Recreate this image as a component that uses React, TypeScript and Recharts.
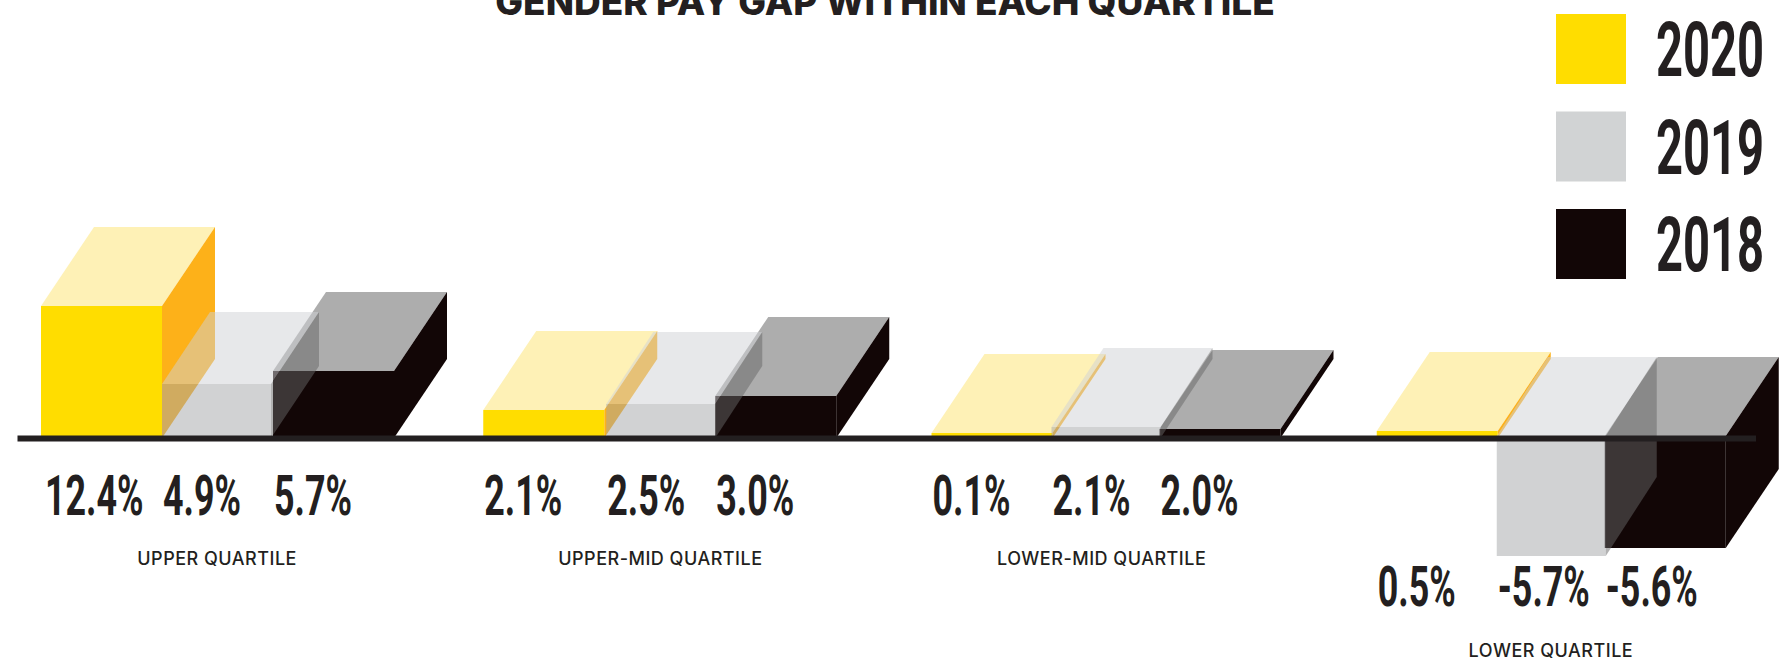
// App.tsx - gender pay gap by quartile, 3D style boxes
import { BarChart, Bar, XAxis, YAxis, Legend, LabelList, ReferenceLine } from 'recharts'

const quartiles = ['UPPER QUARTILE', 'UPPER-MID QUARTILE', 'LOWER-MID QUARTILE', 'LOWER QUARTILE']

// printed labels
const labels2020 = ['12.4%', '2.1%', '0.1%', '0.5%']
const labels2019 = ['4.9%', '2.5%', '2.1%', '-5.7%']
const labels2018 = ['5.7%', '3.0%', '2.0%', '-5.6%']

// bar heights as drawn in the picture, they do not follow the printed labels
const heights2020 = [13.2, 2.8, 0.5, 0.7]
const heights2019 = [5.4, 3.4, 1.1, -11.8]
const heights2018 = [6.7, 4.2, 0.9, -11.0]

const data = quartiles.map((quartile, i) => ({
  quartile,
  h2020: heights2020[i],
  h2019: heights2019[i],
  h2018: heights2018[i],
}))

const INK = '#231f20'
const YELLOW = { front: '#ffdd00', frontOp: 1, top: '#fef1b6', topOp: 1, side: '#fdb119', sideOp: 1 }
const GREY = { front: '#a3a5a8', frontOp: 0.5, top: '#cfd2d6', topOp: 0.5, side: '#666666', sideOp: 0.5 }
const BLACK = { front: '#120606', frontOp: 1, top: '#adadad', topOp: 1, side: '#120606', sideOp: 1 }

// grey boxes are a bit shallower in the first two groups
const greyDepth = [[48, 72], [47, 72], [52, 79], [51, 79]]
const fullDepth = [[53, 79], [53, 79], [53, 79], [53, 79]]
// the groups are not spaced quite evenly
const nudge2020 = [-1, -3, 1, 2]
const nudge2019 = [-1, -1, 0, 1]
const nudge2018 = [1, -1, -1, 0]
const tickNudge = [0, -1, -4, 1]

const Box = (props: any) => {
  const { x: bandX, y, width, height, index, colors, depth, heights, nudge } = props
  const x = bandX + nudge[index]
  const [dx, dy] = depth[index]
  // top face of a negative bar sits on the axis line
  const top = heights[index] < 0 ? Math.min(y, y + height) - 2 : Math.min(y, y + height)
  const bottom = Math.max(y, y + height)
  const r = x + width
  return (
    <g>
      <polygon
        points={`${x},${top} ${r},${top} ${r + dx},${top - dy} ${x + dx},${top - dy}`}
        fill={colors.top}
        fillOpacity={colors.topOp}
      />
      <polygon
        points={`${r},${top} ${r + dx},${top - dy} ${r + dx},${bottom - dy} ${r},${bottom}`}
        fill={colors.side}
        fillOpacity={colors.sideOp}
      />
      <rect x={x} y={top} width={width} height={bottom - top} fill={colors.front} fillOpacity={colors.frontOp} />
    </g>
  )
}

const Condensed = ({ x, y, size, stretch = 0.62, children }: any) => (
  <text
    transform={`translate(${x} ${y}) scale(${stretch} 1)`}
    fontFamily="Roboto"
    fontWeight={700}
    fontSize={size}
    fill={INK}
  >
    {children}
  </text>
)

const valueLabel = (texts: string[], nudge: number[]) => (p: any) => (
  <Condensed
    x={p.x + nudge[p.index] + (p.index === 0 && texts === labels2020 ? 4 : 1)}
    y={p.index === 3 ? 606 : 515}
    size={56}
    stretch={0.64}
  >
    {texts[p.index]}
  </Condensed>
)

const QuartileTick = ({ x, payload, index }: any) => (
  <text
    x={x + tickNudge[index]}
    y={index === 3 ? 657 : 565}
    textAnchor="middle"
    fontFamily="Inter"
    fontWeight={500}
    fontSize={18}
    letterSpacing={0.5}
    fill={INK}
  >
    {payload.value}
  </text>
)

const LegendBoxes = ({ payload }: any) => {
  const items = [...(payload || [])].sort((a: any, b: any) => Number(b.value) - Number(a.value))
  return (
    <svg width={230} height={290} style={{ display: 'block' }}>
      {items.map((e: any, i: number) => (
        <g key={e.value}>
          <rect x={0} y={14 + i * 97.5} width={70} height={70} fill={e.color} />
          <Condensed x={100} y={76 + i * 97.5} size={76}>{e.value}</Condensed>
        </g>
      ))}
    </svg>
  )
}

export default function App() {
  return (
    <div style={{ position: 'absolute', left: -5, top: 0 }}>
      <BarChart
        width={1791}
        height={658}
        data={data}
        barGap={0}
        barCategoryGap={0}
        margin={{ top: 38, right: 14, bottom: 0, left: 0 }}
      >
        <XAxis dataKey="quartile" axisLine={false} tickLine={false} interval={0} tick={QuartileTick} height={60} />
        <YAxis hide domain={[-16, 40]} />
        <Legend
          layout="vertical"
          align="center"
          verticalAlign="middle"
          content={LegendBoxes}
          wrapperStyle={{ left: 1561, top: 0, width: 230 }}
        />
        <Bar
          dataKey="h2020"
          name="2020"
          fill="#ffdd00"
          barSize={121}
          isAnimationActive={false}
          shape={(p: any) => <Box {...p} colors={YELLOW} depth={fullDepth} heights={heights2020} nudge={nudge2020} />}
        >
          <LabelList content={valueLabel(labels2020, nudge2020)} />
        </Bar>
        <Bar
          dataKey="h2019"
          name="2019"
          fill="#d1d3d4"
          barSize={109}
          zIndex={320}
          isAnimationActive={false}
          shape={(p: any) => <Box {...p} colors={GREY} depth={greyDepth} heights={heights2019} nudge={nudge2019} />}
        >
          <LabelList content={valueLabel(labels2019, nudge2019)} />
        </Bar>
        <Bar
          dataKey="h2018"
          name="2018"
          fill="#120606"
          barSize={121}
          zIndex={310}
          isAnimationActive={false}
          shape={(p: any) => <Box {...p} colors={BLACK} depth={fullDepth} heights={heights2018} nudge={nudge2018} />}
        >
          <LabelList content={valueLabel(labels2018, nudge2018)} />
        </Bar>
        <ReferenceLine
          y={0}
          zIndex={400}
          shape={(p: any) => <line x1={22.5} x2={1761} y1={p.y1 + 0.5} y2={p.y2 + 0.5} stroke={INK} strokeWidth={6} />}
        />
        <text x={890} y={15} textAnchor="middle" fontFamily="Inter" fontWeight={800} fontSize={37} fill={INK}>
          GENDER PAY GAP WITHIN EACH QUARTILE
        </text>
      </BarChart>
    </div>
  )
}
